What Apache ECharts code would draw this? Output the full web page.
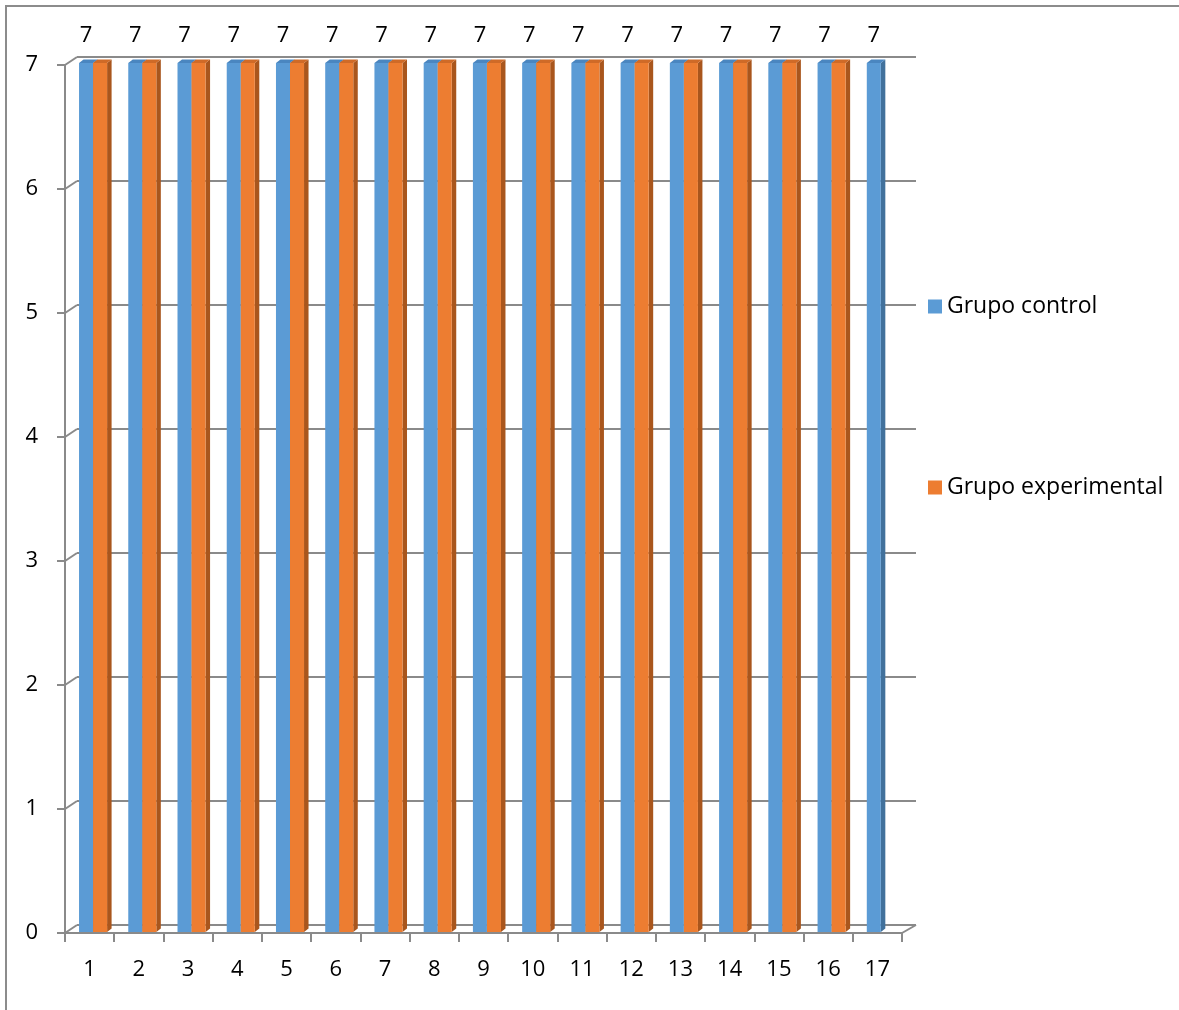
<!DOCTYPE html>
<html><head><meta charset="utf-8">
<script src="https://cdn.jsdelivr.net/npm/echarts@6/dist/echarts.min.js"></script>
<style>html,body{margin:0;padding:0;background:#fff}#c{width:1179px;height:1010px}</style>
</head><body><div id="c"></div>
<script>
const categories = ['1','2','3','4','5','6','7','8','9','10','11','12','13','14','15','16','17'];
const controlValues = [7,7,7,7,7,7,7,7,7,7,7,7,7,7,7,7,7];
const experimentalValues = [7,7,7,7,7,7,7,7,7,7,7,7,7,7,7,7];
const yTicks = [0,1,2,3,4,5,6,7];
const seriesNames = ['Grupo control','Grupo experimental'];

const FONT = '"Open Sans", Lato, sans-serif';
const GRID_GRAY = '#8a8a8a';
const palettes = [
  {front:'#5b9bd5', side:'#41719c', top:'#4a86c0'},
  {front:'#ed7d31', side:'#a9561d', top:'#cf6a27'}
];

function barRenderer(kind){
  return function(params, api){
    const i = api.value(0), v = api.value(1);
    if (v == null || isNaN(v)) return;
    const top = api.coord([i, v]);
    const base = api.coord([i, 0]);
    const bw = api.size([1, 0])[0];
    const w = bw * 0.285;
    const x0 = top[0] - bw * 0.215 + (kind === 1 ? w : 0);
    const yT = top[1] - 2, yB = base[1] - 1;
    const dx = 4.5, dy = 3.5;
    const p = palettes[kind];
    const children = [
      {type:'polygon', shape:{points:[[x0+w,yT],[x0+w+dx,yT-dy],[x0+w+dx,yB-dy],[x0+w,yB]]}, style:{fill:p.side}},
      {type:'polygon', shape:{points:[[x0,yT],[x0+dx,yT-dy],[x0+w+dx,yT-dy],[x0+w,yT]]}, style:{fill:p.top}},
      {type:'rect', shape:{x:x0, y:yT, width:w, height:yB-yT}, style:{fill:p.front}}
    ];
    if (kind === 0) {
      children.push({type:'text', style:{text:String(v), x:x0+w/2, y:yT-27, align:'center', verticalAlign:'middle', font:'22px ' + FONT, fill:'#000'}});
    }
    return {type:'group', children};
  };
}

function connectorRenderer(params, api){
  const v = api.value(1);
  const y = api.coord([0, v])[1];
  const cs = params.coordSys;
  const st = {stroke:GRID_GRAY, lineWidth:2};
  const children = [{type:'line', shape:{x1:cs.x, y1:y, x2:cs.x+12, y2:y-8}, style:st}];
  if (v === 0) {
    children.push({type:'line', shape:{x1:cs.x+cs.width, y1:y, x2:cs.x+cs.width+14, y2:y-8}, style:st});
  }
  return {type:'group', children};
}

const chart = echarts.init(document.getElementById('c'));
chart.setOption({
  backgroundColor:'#fff',
  animation:false,
  textStyle:{fontFamily:FONT},
  graphic:[{type:'polyline', shape:{points:[[6,1012],[6,6],[1181,6]]}, style:{stroke:'#8c8c8c', lineWidth:2, fill:null}}],
  legend:{
    orient:'vertical', left:923, top:290, itemWidth:14, itemHeight:14, itemGap:158,
    icon:'rect', data:seriesNames,
    textStyle:{fontSize:23, color:'#000', fontFamily:FONT}
  },
  grid:[
    {left:65, top:65, width:837, height:868},
    {left:77, top:57, width:839, height:868}
  ],
  xAxis:[
    {type:'category', gridIndex:0, data:categories,
     axisLine:{lineStyle:{color:GRID_GRAY, width:2}},
     axisTick:{show:true, length:9, lineStyle:{color:GRID_GRAY, width:2}},
     axisLabel:{margin:26, fontSize:22, color:'#000', fontFamily:FONT},
     splitLine:{show:false}},
    {type:'category', gridIndex:1, data:categories, show:false}
  ],
  yAxis:[
    {type:'value', gridIndex:0, min:0, max:7, interval:1,
     axisLine:{show:true, lineStyle:{color:GRID_GRAY, width:2}},
     axisTick:{show:true, length:8, lineStyle:{color:GRID_GRAY, width:2}},
     axisLabel:{margin:27, fontSize:22, color:'#000', fontFamily:FONT, padding:[4,0,0,0]},
     splitLine:{show:false}},
    {type:'value', gridIndex:1, min:0, max:7, interval:1,
     axisLine:{show:false}, axisTick:{show:false}, axisLabel:{show:false},
     splitLine:{show:true, lineStyle:{color:GRID_GRAY, width:2}}}
  ],
  series:[
    {type:'custom', name:'connectors', xAxisIndex:0, yAxisIndex:0, silent:true, z:1, clip:false,
     data:yTicks.map(v => [0, v]), renderItem:connectorRenderer},
    {type:'custom', name:seriesNames[0], xAxisIndex:0, yAxisIndex:0, z:3, clip:false,
     itemStyle:{color:palettes[0].front},
     data:controlValues.map((v, i) => [i, v]), renderItem:barRenderer(0)},
    {type:'custom', name:seriesNames[1], xAxisIndex:0, yAxisIndex:0, z:4, clip:false,
     itemStyle:{color:palettes[1].front},
     data:experimentalValues.map((v, i) => [i, v]), renderItem:barRenderer(1)}
  ]
});
</script>
</body></html>
